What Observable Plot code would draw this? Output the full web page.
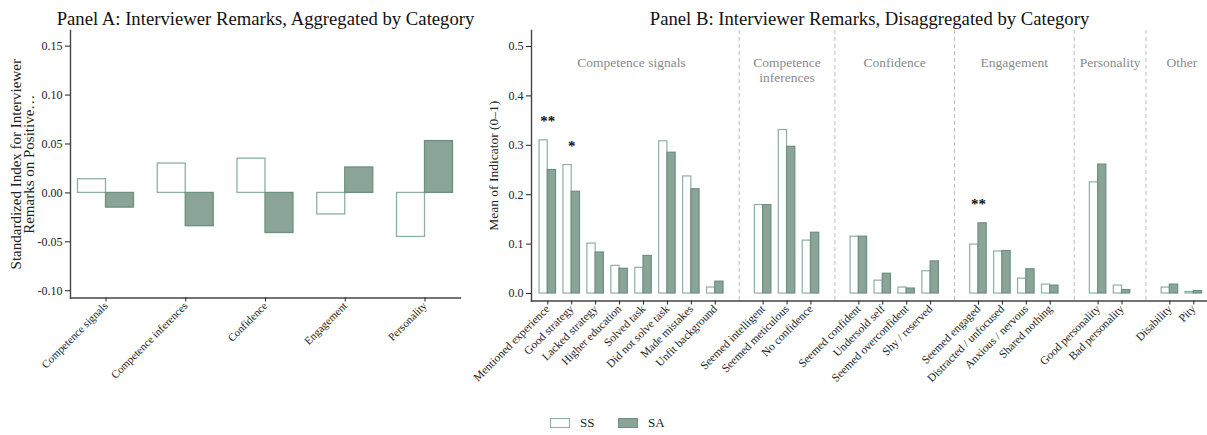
<!DOCTYPE html>
<html>
<head>
<meta charset="utf-8">
<script src="https://cdn.jsdelivr.net/npm/d3@7"></script>
<script src="https://cdn.jsdelivr.net/npm/@observablehq/plot@0.6"></script>
<style>
  body { margin: 0; background: #fff; }
  #chart { position: relative; width: 1207px; height: 435px; background: #fff; font-family: "Liberation Serif", serif; color: #222; }
  #panelA { position: absolute; left: 0; top: 0; z-index: 2; }
  #panelB { position: absolute; left: 470px; top: 0; z-index: 1; }
  .swatch { position: absolute; top: 418px; width: 20px; height: 10px; box-sizing: border-box; }
  .key { position: absolute; top: 414px; font-size: 13px; line-height: 18px; }
</style>
</head>
<body>
<div id="chart">
  <div id="panelA"></div>
  <div id="panelB"></div>
  <div id="legend"></div>
</div>
<script>
// ---- Panel A: standardized index by category ----
const categoriesA = ["Competence signals", "Competence inferences", "Confidence", "Engagement", "Personality"];
const ssIndexA = [0.014, 0.030, 0.035, -0.022, -0.045];
const saIndexA = [-0.015, -0.034, -0.041, 0.026, 0.053];
const ticksA = [-0.10, -0.05, 0.00, 0.05, 0.10, 0.15];

// ---- Panel B: mean of each remark indicator ----
const groupsB = ["Competence signals", "Competence inferences", "Confidence", "Engagement", "Personality", "Other"];
const groupTitlesB = ["Competence signals", "Competence\ninferences", "Confidence", "Engagement", "Personality", "Other"];
const itemsB = [
  "Mentioned experience", "Good strategy", "Lacked strategy", "Higher education", "Solved task",
  "Did not solve task", "Made mistakes", "Unfit background",
  "Seemed intelligent", "Seemed meticulous", "No confidence",
  "Seemed confident", "Undersold self", "Seemed overconfident", "Shy / reserved",
  "Seemed engaged", "Distracted / unfocused", "Anxious / nervous", "Shared nothing",
  "Good personality", "Bad personality",
  "Disability", "Pity"
];
const itemGroupB = [
  "Competence signals", "Competence signals", "Competence signals", "Competence signals", "Competence signals",
  "Competence signals", "Competence signals", "Competence signals",
  "Competence inferences", "Competence inferences", "Competence inferences",
  "Confidence", "Confidence", "Confidence", "Confidence",
  "Engagement", "Engagement", "Engagement", "Engagement",
  "Personality", "Personality",
  "Other", "Other"
];
const ssMeanB = [0.310, 0.260, 0.101, 0.056, 0.052, 0.308, 0.237, 0.012,
                 0.179, 0.331, 0.107,
                 0.115, 0.026, 0.012, 0.045,
                 0.099, 0.085, 0.030, 0.018,
                 0.225, 0.016,
                 0.012, 0.003];
const saMeanB = [0.250, 0.206, 0.083, 0.050, 0.076, 0.285, 0.211, 0.024,
                 0.179, 0.297, 0.123,
                 0.115, 0.040, 0.010, 0.065,
                 0.142, 0.086, 0.049, 0.016,
                 0.261, 0.007,
                 0.018, 0.005];
const ticksB = [0.0, 0.1, 0.2, 0.3, 0.4, 0.5];
const starItemsB = ["Mentioned experience", "Good strategy", "Seemed engaged"];
const starLabelsB = ["**", "*", "**"];

// ---- shared styling ----
const ssFill = "#ffffff";
const ssStroke = "#8db0a2";
const saFill = "#8aa598";
const saStroke = "#6b8f81";
const axisColor = "#444";
const font = "Liberation Serif";

// ---------- Panel A ----------
const rowsA = categoriesA.map((c, i) => ({category: c, ss: ssIndexA[i], sa: saIndexA[i]}));
const widthA = 470, mlA = 70, mrA = 10;
const padInA = 0.298, padOutA = 0.094;
const stepA = (widthA - mlA - mrA) / (categoriesA.length - padInA + 2 * padOutA);
const halfA = stepA * (1 - padInA) / 2;

const plotA = Plot.plot({
  width: widthA, height: 385,
  marginTop: 30, marginBottom: 87.5, marginLeft: mlA, marginRight: mrA,
  style: {fontFamily: font, fontSize: "12px", color: "#222", background: "none", overflow: "visible"},
  x: {type: "band", domain: categoriesA, paddingInner: padInA, paddingOuter: padOutA, round: false},
  y: {domain: [-0.1074, 0.166]},
  marks: [
    Plot.barY(rowsA, {x: "category", y1: 0, y2: "ss", fill: ssFill, stroke: ssStroke, strokeWidth: 1.3, insetRight: halfA}),
    Plot.barY(rowsA, {x: "category", y1: 0, y2: "sa", fill: saFill, stroke: saStroke, strokeWidth: 1.3, insetLeft: halfA}),
    Plot.frame({anchor: "left", stroke: axisColor, strokeWidth: 1.4}),
    Plot.frame({anchor: "bottom", stroke: axisColor, strokeWidth: 1.4}),
    Plot.axisY({ticks: ticksA, tickFormat: d => d.toFixed(2), tickSize: 5, tickPadding: 3, fontSize: 12, label: null}),
    Plot.axisX({tickRotate: -45, tickSize: 4, tickPadding: 2, fontSize: 11, label: null}),
    Plot.text(["Panel A: Interviewer Remarks, Aggregated by Category"], {frameAnchor: "top", dy: -19, fontSize: 18.7, fill: "#111"}),
    Plot.text(["Standardized Index for Interviewer\nRemarks on Positive…"], {frameAnchor: "left", textAnchor: "middle", rotate: -90, dx: -47.5, fontSize: 15, lineHeight: 0.93, fill: "#222"})
  ]
});
document.getElementById("panelA").append(plotA);

// ---------- Panel B ----------
const rowsB = itemsB.map((it, i) => ({item: it, group: itemGroupB[i], ss: ssMeanB[i], sa: saMeanB[i]}));
const domainB = [];
const gapKeys = [];
groupsB.forEach((g, gi) => {
  itemsB.forEach((it, i) => { if (itemGroupB[i] === g) domainB.push(it); });
  if (gi < groupsB.length - 1) { const k = "gap-" + gi; domainB.push(k); gapKeys.push(k); }
});
const rangeB = [61, 739.6];
const padInB = 0.31, padOutB = 0.336;
const stepB = (rangeB[1] - rangeB[0]) / (domainB.length - padInB + 2 * padOutB);
const halfB = stepB * (1 - padInB) / 2;

const starRows = starItemsB.map((it, i) => {
  const j = itemsB.indexOf(it);
  return {item: it, label: starLabelsB[i], top: Math.max(ssMeanB[j], saMeanB[j])};
});

const groupTextMarks = groupsB.map((g, gi) => {
  const members = itemsB.filter((it, i) => itemGroupB[i] === g);
  return Plot.text([groupTitlesB[gi]], {
    x: () => members[0], frameAnchor: "top", lineAnchor: "top", dy: 26,
    dx: (members.length - 1) * stepB / 2,
    fontSize: 13.5, fill: "#8a8a8a", lineHeight: 1.1
  });
});

const plotB = Plot.plot({
  width: 737, height: 385,
  marginTop: 30, marginBottom: 84.5, marginLeft: 61, marginRight: 0,
  style: {fontFamily: font, fontSize: "12px", color: "#222", background: "none", overflow: "visible"},
  x: {type: "band", domain: domainB, range: rangeB, paddingInner: padInB, paddingOuter: padOutB, round: false},
  y: {domain: [-0.0152, 0.5324]},
  marks: [
    Plot.ruleX(gapKeys, {stroke: "#bdbdbd", strokeDasharray: "4,3", strokeWidth: 1}),
    Plot.barY(rowsB, {x: "item", y1: 0, y2: "ss", fill: ssFill, stroke: ssStroke, strokeWidth: 1.2, insetRight: halfB}),
    Plot.barY(rowsB, {x: "item", y1: 0, y2: "sa", fill: saFill, stroke: saStroke, strokeWidth: 1.2, insetLeft: halfB}),
    Plot.text(starRows, {x: "item", y: "top", text: "label", lineAnchor: "bottom", dy: -14, fontSize: 15, fontWeight: "bold", fill: "#111"}),
    ...groupTextMarks,
    Plot.frame({anchor: "left", stroke: axisColor, strokeWidth: 1.4}),
    Plot.frame({anchor: "bottom", stroke: axisColor, strokeWidth: 1.4}),
    Plot.axisY({ticks: ticksB, tickFormat: d => d.toFixed(1), tickSize: 5, tickPadding: 3, fontSize: 12, label: null}),
    Plot.axisX({ticks: itemsB, tickRotate: -45, tickSize: 4, tickPadding: 2, fontSize: 11.5, label: null}),
    Plot.text(["Panel B: Interviewer Remarks, Disaggregated by Category"], {frameAnchor: "top", dy: -19, fontSize: 18.7, fill: "#111"}),
    Plot.text(["Mean of Indicator (0–1)"], {frameAnchor: "left", textAnchor: "middle", rotate: -90, dx: -38, fontSize: 13.5, fill: "#222"})
  ]
});
document.getElementById("panelB").append(plotB);

// ---------- Legend ----------
const legendKeys = ["SS", "SA"];
const legendFill = [ssFill, saFill];
const legendStroke = [ssStroke, saStroke];
const legend = document.getElementById("legend");
legendKeys.forEach((k, i) => {
  const sw = document.createElement("div");
  sw.className = "swatch";
  sw.style.left = (550 + i * 68) + "px";
  sw.style.background = legendFill[i];
  sw.style.border = "1.3px solid " + legendStroke[i];
  legend.append(sw);
  const t = document.createElement("div");
  t.className = "key";
  t.style.left = (580 + i * 68) + "px";
  t.textContent = k;
  legend.append(t);
});
</script>
</body>
</html>
